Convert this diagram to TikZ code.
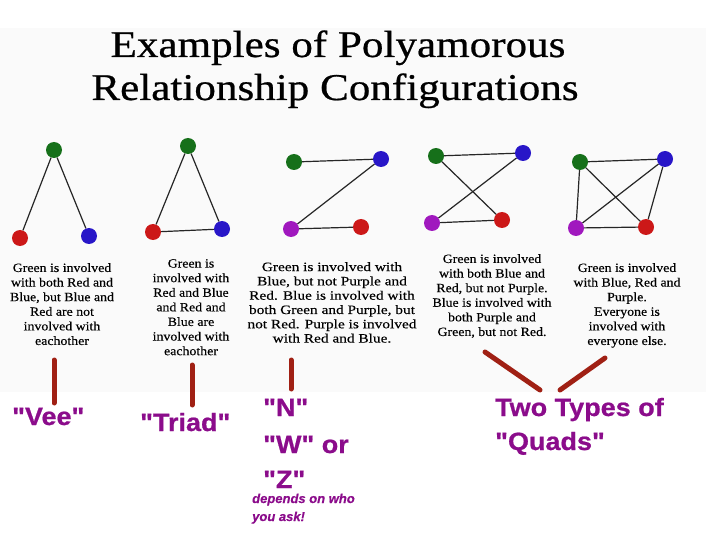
\documentclass[tikz,border=0pt]{standalone}
\usepackage{fontspec}
\setmainfont{Liberation Serif}
\newfontfamily\bodyfont[FakeStretch=1.1,FakeBold=0.3]{Liberation Serif}
\newfontfamily\bodyfontwide[FakeStretch=1.2,FakeBold=0.3]{Liberation Serif}
\newfontfamily\titlefont[FakeStretch=1.14,FakeBold=0.6]{Liberation Serif}
\newfontfamily\labelfont[Ligatures=TeXOff,FakeStretch=1.08,FakeBold=0.8]{Liberation Sans}
\newfontfamily\smalllabelfont[Ligatures=TeXOff,FakeBold=0.4]{Liberation Sans}
\definecolor{dgreen}{RGB}{22,112,26}
\definecolor{dred}{RGB}{204,24,24}
\definecolor{dblue}{RGB}{40,22,200}
\definecolor{dpurple}{RGB}{160,24,190}
\definecolor{lblpurple}{RGB}{139,12,139}
\definecolor{barred}{RGB}{160,32,20}
\definecolor{bgshade}{RGB}{250,250,250}
\begin{document}
\begin{tikzpicture}[x=1pt,y=-1pt,
  dot/.style={circle, inner sep=0pt, minimum size=16pt},
  edge/.style={line width=1.2pt, black!85},
  desc/.style={align=center, anchor=north, inner sep=0pt,
    font=\bodyfont\fontsize{12.6}{14.6}\selectfont},
  lbl/.style={anchor=base west, inner sep=0pt, text=lblpurple,
    font=\labelfont\bfseries\fontsize{25}{30}\selectfont},
  smalllbl/.style={anchor=base west, inner sep=0pt, text=lblpurple,
    font=\smalllabelfont\bfseries\itshape\fontsize{13}{18}\selectfont},
  bar/.style={line width=5pt, draw=barred, line cap=round}]
\useasboundingbox (0,0) rectangle (720,540);
\fill[bgshade] (0,28) rectangle (706,392);

% title
\node[anchor=base, inner sep=0pt, font=\titlefont\fontsize{37.8}{43}\selectfont] (t1) at (338,57) {Examples of Polyamorous};
\node[anchor=base, inner sep=0pt, font=\titlefont\fontsize{37.8}{43}\selectfont] (t2) at (335,100) {Relationship Configurations};

% Vee
\node[dot, fill=dgreen] (g1) at (54,150) {};
\node[dot, fill=dred] (r1) at (20,238) {};
\node[dot, fill=dblue] (b1) at (89,236) {};
\draw[edge] (g1) -- (r1);
\draw[edge] (g1) -- (b1);

% Triad
\node[dot, fill=dgreen] (g2) at (188,146) {};
\node[dot, fill=dred] (r2) at (153,232) {};
\node[dot, fill=dblue] (b2) at (222,229) {};
\draw[edge] (g2) -- (r2);
\draw[edge] (g2) -- (b2);
\draw[edge] (r2) -- (b2);

% Z
\node[dot, fill=dgreen] (g3) at (294,162) {};
\node[dot, fill=dblue] (b3) at (381,159) {};
\node[dot, fill=dpurple] (p3) at (291,229) {};
\node[dot, fill=dred] (r3) at (361,227) {};
\draw[edge] (g3) -- (b3);
\draw[edge] (b3) -- (p3);
\draw[edge] (p3) -- (r3);

% Quad 1
\node[dot, fill=dgreen] (g4) at (436,156) {};
\node[dot, fill=dblue] (b4) at (523,153) {};
\node[dot, fill=dpurple] (p4) at (432,223) {};
\node[dot, fill=dred] (r4) at (502,220) {};
\draw[edge] (g4) -- (b4);
\draw[edge] (g4) -- (r4);
\draw[edge] (b4) -- (p4);
\draw[edge] (p4) -- (r4);

% Quad 2
\node[dot, fill=dgreen] (g5) at (580,162) {};
\node[dot, fill=dblue] (b5) at (665,159) {};
\node[dot, fill=dpurple] (p5) at (576,228) {};
\node[dot, fill=dred] (r5) at (646,227) {};
\draw[edge] (g5) -- (b5);
\draw[edge] (g5) -- (r5);
\draw[edge] (g5) -- (p5);
\draw[edge] (b5) -- (p5);
\draw[edge] (b5) -- (r5);
\draw[edge] (p5) -- (r5);

% descriptions
\node[desc] (d1) at (62,263) {Green is involved\\with both Red and\\Blue, but Blue and\\Red are not\\involved with\\eachother};
\node[desc] (d2) at (191,259) {Green is\\involved with\\Red and Blue\\and Red and\\Blue are\\involved with\\eachother};
\node[desc, font=\bodyfontwide\fontsize{12.8}{14.3}\selectfont] (d3) at (332,262) {Green is involved with\\Blue, but not Purple and\\Red. Blue is involved with\\both Green and Purple, but\\not Red. Purple is involved\\with Red and Blue.};
\node[desc] (d4) at (492,254) {Green is involved\\with both Blue and\\Red, but not Purple.\\Blue is involved with\\both Purple and\\Green, but not Red.};
\node[desc] (d5) at (627,263) {Green is involved\\with Blue, Red and\\Purple.\\Everyone is\\involved with\\everyone else.};

% bars
\coordinate (v1t) at (54,360); \coordinate (v1b) at (54,403);
\coordinate (v2t) at (192,365); \coordinate (v2b) at (192,405);
\coordinate (v3t) at (291,360); \coordinate (v3b) at (291,389);
\coordinate (q1t) at (485,352); \coordinate (q1b) at (540,390);
\coordinate (q2t) at (605,358); \coordinate (q2b) at (560,390);
\draw[bar] (v1t) -- (v1b);
\draw[bar] (v2t) -- (v2b);
\draw[bar] (v3t) -- (v3b);
\draw[bar] (q1t) -- (q1b);
\draw[bar] (q2t) -- (q2b);

% labels
\node[lbl] (l1) at (12,425) {"Vee"};
\node[lbl] (l2) at (140,431) {"Triad"};
\node[lbl] (l3) at (263,416) {"N"};
\node[lbl] (l4) at (263,453) {"W" or};
\node[lbl] (l5) at (263,488) {"Z"};
\node[smalllbl] (l6) at (252,503) {depends on who};
\node[smalllbl] (l7) at (252,521) {you ask!};
\node[lbl] (l8) at (495,416) {Two Types of};
\node[lbl] (l9) at (495,450) {"Quads"};
\end{tikzpicture}
\end{document}
